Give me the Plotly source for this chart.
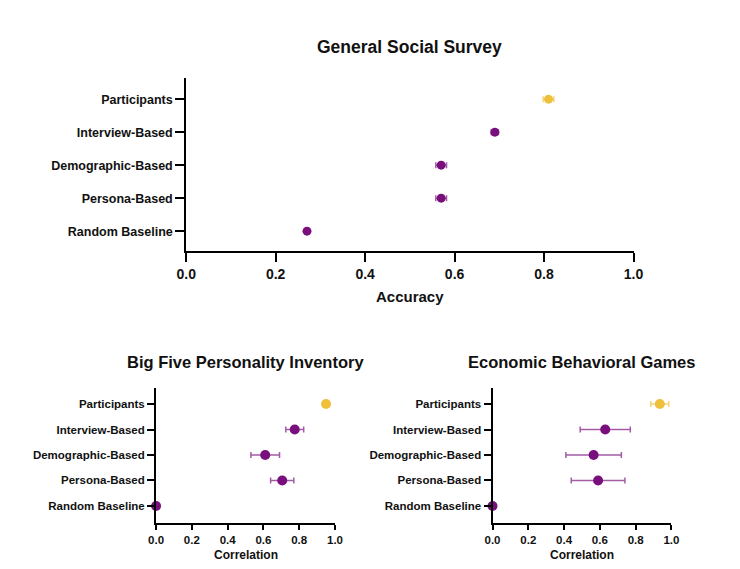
import plotly.graph_objects as go

categories = ["Participants", "Interview-Based", "Demographic-Based", "Persona-Based", "Random Baseline"]
x_ticks = [0.0, 0.2, 0.4, 0.6, 0.8, 1.0]

gss_vals = [0.81, 0.69, 0.57, 0.57, 0.27]
gss_err = [0.012, 0.008, 0.012, 0.012, 0.0]

big5_vals = [0.95, 0.775, 0.61, 0.705, 0.0]
big5_err = [0.006, 0.05, 0.08, 0.065, 0.0]

econ_vals = [0.935, 0.63, 0.565, 0.59, 0.0]
econ_err = [0.05, 0.14, 0.155, 0.15, 0.0]

titles = ["General Social Survey", "Big Five Personality Inventory", "Economic Behavioral Games"]
x_titles = ["Accuracy", "Correlation", "Correlation"]

GOLD = "#EFC03A"
GOLD_ERR = "#F3D377"
PURPLE = "#790F7C"
PURPLE_ERR = "#A35BA6"
FONT = "Liberation Sans, Arial, sans-serif"

fig = go.Figure()

panels = [
    (gss_vals, gss_err, "x", "y", 9),
    (big5_vals, big5_err, "x2", "y2", 10),
    (econ_vals, econ_err, "x3", "y3", 10),
]

for vals, errs, xa, ya, msize in panels:
    fig.add_trace(go.Scatter(
        x=[vals[0]], y=[categories[0]], mode="markers", xaxis=xa, yaxis=ya,
        marker=dict(color=GOLD, size=msize),
        error_x=dict(type="data", array=[errs[0]], color=GOLD_ERR, thickness=1.5, width=3),
        cliponaxis=False, showlegend=False,
    ))
    fig.add_trace(go.Scatter(
        x=vals[1:], y=categories[1:], mode="markers", xaxis=xa, yaxis=ya,
        marker=dict(color=PURPLE, size=msize),
        error_x=dict(type="data", array=errs[1:], color=PURPLE_ERR, thickness=1.5, width=3),
        cliponaxis=False, showlegend=False,
    ))

# page has an 8px body margin; the figure is sized to fit inside it
OFF = 8
W, H = 740 - 2 * OFF, 569 - 2 * OFF

def px_x(p):
    return (p - OFF) / W

def px_y(p):
    return 1 - (p - OFF) / H

common_x = dict(
    range=[0, 1], tickvals=x_ticks, tickformat=".1f", showgrid=False, zeroline=False,
    showline=True, linecolor="black", linewidth=2, ticks="outside", ticklen=5,
    tickwidth=2, tickcolor="black", fixedrange=True,
)
common_y = dict(
    type="category", categoryorder="array", categoryarray=categories[::-1],
    showgrid=False, zeroline=False, showline=True, linecolor="black", linewidth=2,
    ticks="outside", ticklen=7, tickwidth=2, tickcolor="black",
)

fig.update_layout(
    width=W, height=H, margin=dict(l=0, r=0, t=0, b=0),
    paper_bgcolor="white", plot_bgcolor="white",
    font=dict(family=FONT, color="#111111"),
    xaxis=dict(common_x, domain=[px_x(181), px_x(641)], anchor="y", ticklen=9,
               tickfont=dict(size=14, weight="bold", family=FONT)),
    yaxis=dict(common_y, domain=[px_y(251), px_y(78)], anchor="x", range=[-0.6, 4.64],
               ticklen=9, tickfont=dict(size=12.5, weight="bold", family=FONT)),
    xaxis2=dict(common_x, domain=[px_x(150), px_x(334)], anchor="y2",
                tickfont=dict(size=11.5, weight="bold", family=FONT)),
    yaxis2=dict(common_y, domain=[px_y(523), px_y(388)], anchor="x2", range=[-0.67, 4.63],
                tickfont=dict(size=11.5, weight="bold", family=FONT)),
    xaxis3=dict(common_x, domain=[px_x(496), px_x(680)], anchor="y3",
                tickfont=dict(size=11.5, weight="bold", family=FONT)),
    yaxis3=dict(common_y, domain=[px_y(523), px_y(388)], anchor="x3", range=[-0.67, 4.63],
                tickfont=dict(size=11.5, weight="bold", family=FONT)),
)

ann = [
    (titles[0], 411, 47, 17.5),
    (titles[1], 242, 362, 16.5),
    (titles[2], 588, 362, 16.5),
    (x_titles[0], 411, 296, 15),
    (x_titles[1], 242, 555, 12),
    (x_titles[2], 588, 555, 12),
]
for text, ax, ay, size in ann:
    fig.add_annotation(
        text=text, x=px_x(ax), y=px_y(ay), xref="paper", yref="paper",
        xanchor="center", yanchor="middle", showarrow=False,
        font=dict(size=size, weight="bold", family=FONT, color="#111111"),
    )

fig.write_html("out.html")
